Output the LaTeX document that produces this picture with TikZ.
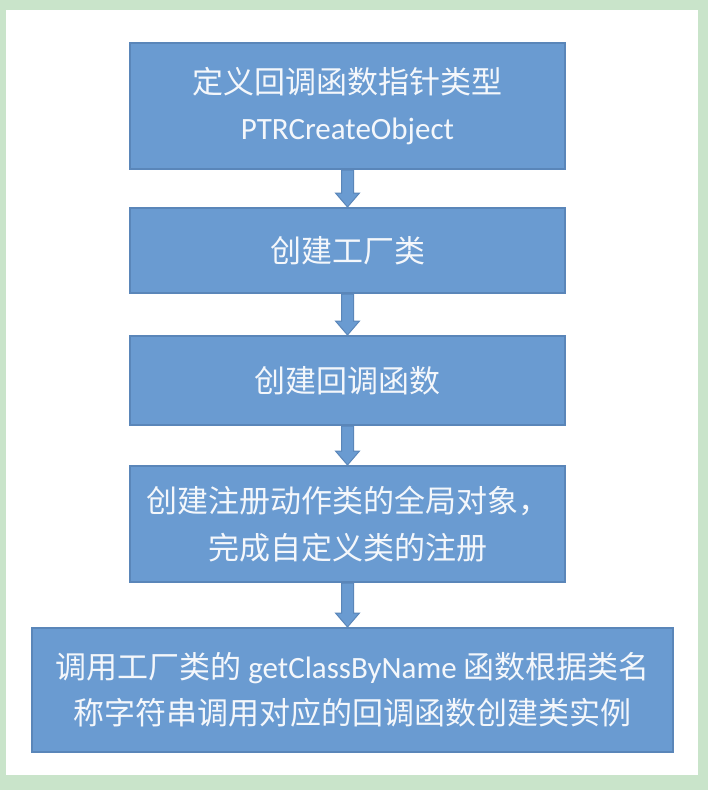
\documentclass[tikz,border=0pt]{standalone}
\usepackage{fontspec}
\setmainfont{Carlito}
\newfontfamily\cjk{Noto Sans CJK SC}
\usetikzlibrary{calc}
\definecolor{bggreen}{HTML}{C9E4CA}
\definecolor{boxfill}{HTML}{6A9BD1}
\definecolor{boxline}{HTML}{5A86B9}
\definecolor{txt}{HTML}{F4F7FB}
\tikzset{
  x=1pt, y=-1pt,
  flowbox/.style={rectangle, draw=boxline, line width=2pt, fill=boxfill,
    inner sep=0pt, align=center, text=txt,
    font=\fontsize{31}{46.5}\selectfont},
  blockarrow/.style={draw=boxline, line width=1pt, fill=boxfill, line join=miter}
}
\newcommand{\barrow}[2]{%
  \path[blockarrow] ($(#1)+(-6,0)$) -- ($(#2)+(-6,-14)$) -- ($(#2)+(-12,-14)$) -- (#2)
    -- ($(#2)+(12,-14)$) -- ($(#2)+(6,-14)$) -- ($(#1)+(6,0)$) -- cycle;}
\begin{document}
\begin{tikzpicture}
\fill[bggreen] (0,0) rectangle (708,790);
\fill[white] (6,10) rectangle (698,775);
\useasboundingbox (0,0) rectangle (708,790);

\node[flowbox, minimum width=435pt, minimum height=126pt] (b1) at (347.5,106)
  {{\cjk 定义回调函数指针类型}\\PTRCreateObject};
\node[flowbox, minimum width=435pt, minimum height=85pt] (b2) at (347.5,250.5)
  {\cjk 创建工厂类};
\node[flowbox, minimum width=435pt, minimum height=89pt] (b3) at (347.5,380.5)
  {\cjk 创建回调函数};
\node[flowbox, minimum width=435pt, minimum height=116pt] (b4) at (347.5,524)
  {\cjk 创建注册动作类的全局对象，\\\cjk 完成自定义类的注册};
\node[flowbox, minimum width=641pt, minimum height=124pt] (b5) at (352.5,690)
  {{\cjk 调用工厂类的} getClassByName {\cjk 函数根据类名}\\\cjk 称字符串调用对应的回调函数创建类实例};

\coordinate (a1s) at (b1.south);
\coordinate (a1e) at (b1.south |- b2.north);
\coordinate (a2s) at (b2.south);
\coordinate (a2e) at (b2.south |- b3.north);
\coordinate (a3s) at (b3.south);
\coordinate (a3e) at (b3.south |- b4.north);
\coordinate (a4s) at (b4.south);
\coordinate (a4e) at (b4.south |- b5.north);
\barrow{a1s}{a1e}
\barrow{a2s}{a2e}
\barrow{a3s}{a3e}
\barrow{a4s}{a4e}
\end{tikzpicture}
\end{document}
